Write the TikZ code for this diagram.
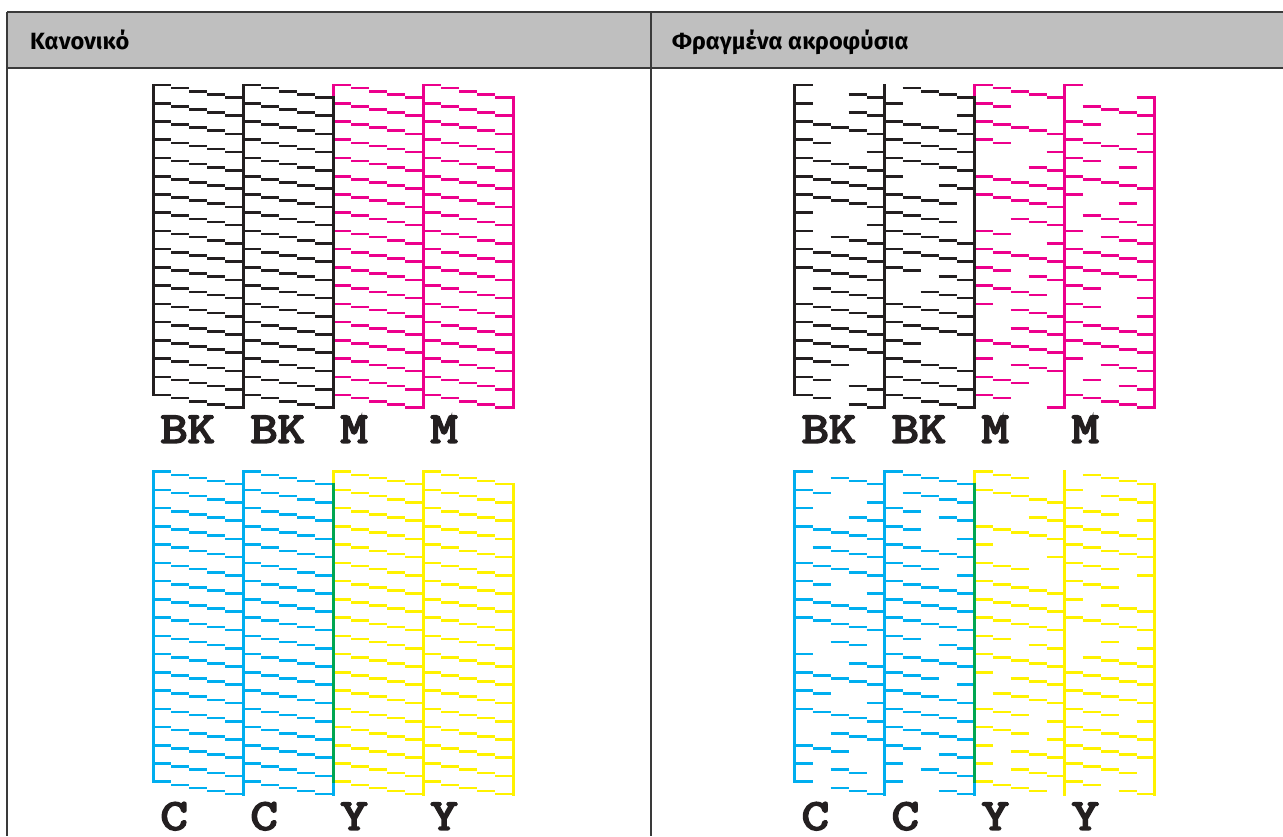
\documentclass[tikz,border=0pt]{standalone}
\usepackage{fontspec}
\setmainfont{Fira Sans}
\newfontfamily\codefont{Latin Modern Mono}[FakeBold=4]
\definecolor{pk}{HTML}{231F20}
\definecolor{pm}{HTML}{EC008C}
\definecolor{pc}{HTML}{00AEEF}
\definecolor{py}{HTML}{FFF200}
\definecolor{pg}{HTML}{00A651}
\definecolor{hdr}{HTML}{BFBFBF}
\definecolor{rulec}{HTML}{3A3A3A}
\newcommand\lab[1]{\scalebox{1.2}[1]{#1}}
\tikzset{
  seg/.style={line width=2.6pt, line cap=butt},
  vline/.style={line width=2.8pt, line cap=rect},
  ovl/.style={line width=2.8pt, line cap=butt},
  lbl/.style={inner sep=0pt, anchor=base west, text=pk, font=\codefont\fontsize{44}{48}\selectfont},
  hd/.style={inner sep=0pt, anchor=base west, font=\bfseries\fontsize{23.5}{27}\selectfont},
  rl/.style={draw=rulec, line width=1.2pt}
}
\def\rowstep{18.24}
\newcommand\nzblock[4]{%
  \draw[#3,vline] ({#1},{#2}) -- ++(0,{17*\rowstep});
  \foreach [count=\r from 0] \a/\b/\c/\d/\e in #4 {
    \pgfmathsetmacro\yy{#2+\r*\rowstep}
    \ifnum\a=1 \draw[#3,seg] ({#1},{\yy}) -- ++(18,0);\fi
    \ifnum\b=1 \draw[#3,seg] ({#1+18},{\yy+3.1}) -- ++(18,0);\fi
    \ifnum\c=1 \draw[#3,seg] ({#1+36},{\yy+6.2}) -- ++(18,0);\fi
    \ifnum\d=1 \draw[#3,seg] ({#1+54},{\yy+9.3}) -- ++(18,0);\fi
    \ifnum\e=1 \draw[#3,seg] ({#1+72},{\yy+12.4}) -- ++(18,0);\fi
  }%
}
\newcommand\nzright[3]{%
  \draw[#3,vline] ({#1+90},{#2+12.4}) -- ++(0,{17*\rowstep});%
}
\newcommand\drawpanel[9]{%
  % top half
  \nzblock{#1+180}{85}{pm}{#4}
  \nzblock{#1+270}{85}{pm}{#5}
  \nzright{#1+180}{85}{pm}
  \nzright{#1+270}{85}{pm}
  \nzblock{#1}{85}{pk}{#2}
  \nzblock{#1+90}{85}{pk}{#3}
  \nzright{#1}{85}{pk}
  \nzright{#1+90}{85}{pk}
  % bottom half
  \nzblock{#1+180}{471.7}{py}{#8}
  \nzblock{#1+270}{471.7}{py}{#9}
  \nzright{#1+180}{471.7}{py}
  \nzright{#1+270}{471.7}{py}
  \nzblock{#1}{471.7}{pc}{#6}
  \nzblock{#1+90}{471.7}{pc}{#7}
  \nzright{#1}{471.7}{pc}
  \nzright{#1+90}{471.7}{pc}
  \draw[pg,ovl] ({#1+180},{471.7+12.4-1.4}) -- ({#1+180},{471.7+17*\rowstep+1.4});
  % labels
  \node[lbl] (\pfx-bka) at ({#1+7},442.7) {\lab{BK}};
  \node[lbl] (\pfx-bkb) at ({#1+97},442.7) {\lab{BK}};
  \node[lbl] (\pfx-ma) at ({#1+187},442.7) {\lab{M}};
  \node[lbl] (\pfx-mb) at ({#1+277},442.7) {\lab{M}};
  \node[lbl] (\pfx-ca) at ({#1+7},829.7) {\lab{C}};
  \node[lbl] (\pfx-cb) at ({#1+97},829.7) {\lab{C}};
  \node[lbl] (\pfx-ya) at ({#1+187},829.7) {\lab{Y}};
  \node[lbl] (\pfx-yb) at ({#1+277},829.7) {\lab{Y}};
}
% normal pattern
\def\full{1/1/1/1/1,1/1/1/1/1,1/1/1/1/1,1/1/1/1/1,1/1/1/1/1,1/1/1/1/1,1/1/1/1/1,1/1/1/1/1,1/1/1/1/1,1/1/1/1/1,1/1/1/1/1,1/1/1/1/1,1/1/1/1/1,1/1/1/1/1,1/1/1/1/1,1/1/1/1/1,1/1/1/1/1,1/1/1/1/1}
% clogged patterns
\def\kA{1/0/0/1/1,1/0/0/1/1,1/1/1/1/1,1/1/0/0/1,1/1/1/1/1,1/1/1/1/1,1/1/1/1/1,1/0/0/0/1,1/0/1/1/1,1/1/1/1/1,1/1/1/1/1,0/1/1/1/1,1/1/1/1/1,1/1/1/1/1,1/1/1/1/1,1/1/1/0/0,1/1/0/1/1,1/1/0/1/1}
\def\kB{0/1/1/1/1,1/0/0/0/1,1/1/1/1/1,1/1/1/1/1,1/1/1/1/1,1/0/0/1/1,1/1/1/1/0,1/1/1/1/0,1/1/1/1/1,1/1/1/1/1,1/1/0/1/1,0/0/1/1/1,1/1/1/1/1,1/1/1/1/1,1/1/0/0/0,1/1/1/1/1,1/1/1/1/1,1/1/1/1/1}
\def\mA{1/1/1/1/1,1/1/0/0/0,1/1/1/1/1,1/1/0/0/1,0/0/0/1/1,1/1/1/1/1,1/1/1/1/1,0/0/1/1/1,1/1/0/0/1,1/1/1/1/1,1/1/0/1/1,1/1/1/1/0,1/0/1/1/1,0/0/1/1/1,1/1/1/1/1,1/0/1/1/1,1/1/1/0/0,1/1/0/0/1}
\def\mB{1/0/0/0/1,0/1/1/1/1,1/1/0/0/1,1/1/1/1/1,1/1/0/1/0,1/1/1/1/1,1/0/0/1/0,0/1/1/1/1,1/0/1/1/1,1/1/1/1/1,1/1/1/1/1,1/1/0/0/1,1/1/0/0/1,1/1/1/1/1,1/1/1/1/1,1/0/1/1/1,0/1/0/1/1,1/1/1/1/1}
\def\cA{1/0/1/1/1,1/1/0/0/1,1/0/0/1/1,1/1/1/1/1,0/1/1/1/1,1/1/1/1/1,1/1/0/0/1,1/1/1/1/1,1/1/1/1/1,0/0/1/1/0,1/0/0/1/1,1/1/1/1/1,1/1/0/0/1,1/1/1/1/1,0/0/1/1/1,1/1/1/0/0,1/0/1/1/0,1/0/1/1/1}
\def\cB{1/1/1/1/1,0/1/1/1/1,1/1/0/1/1,1/1/0/0/1,1/1/1/1/1,1/1/1/0/1,1/1/1/1/1,1/1/1/1/1,1/1/1/1/1,1/1/0/1/1,1/1/1/1/1,1/1/1/0/1,1/1/1/1/1,1/1/1/1/1,1/1/1/1/1,1/1/0/1/1,1/0/1/1/1,1/0/0/1/1}
\def\yA{1/1/1/0/0,1/1/1/1/1,0/0/0/1/1,1/1/1/1/1,1/0/0/0/1,1/1/1/0/0,1/1/1/1/1,1/1/1/1/1,1/1/1/1/1,1/1/0/1/1,1/1/1/1/1,1/0/1/1/1,0/1/1/1/1,1/1/1/0/1,1/1/1/0/1,1/0/1/1/1,1/0/1/1/1,1/1/1/1/0}
\def\yB{0/1/1/1/1,1/0/1/1/1,1/1/1/0/1,1/1/1/1/1,1/1/1/1/1,1/1/1/0/1,1/1/1/0/0,1/0/1/1/1,1/1/1/1/1,0/0/1/0/1,0/1/1/1/1,1/1/1/1/1,1/1/1/1/1,1/1/1/0/1,1/1/1/1/1,1/1/1/1/1,1/1/1/1/0,1/1/0/1/1}
\begin{document}
\begin{tikzpicture}[x=1pt,y=-1pt]
\useasboundingbox (0,0) rectangle (1283,836);
\fill[white] (0,0) rectangle (1283,836);
% table
\fill[hdr] (7,12) rectangle (1283,68);
\draw[rl] (7,12) -- (1283,12);
\draw[rl] (7,68) -- (1283,68);
\draw[rl] (7,12) -- (7,836);
\draw[rl] (651,12) -- (651,836);
\node[hd] (hnorm) at (30,49.5) {Κανονικό};
\node[hd] (hclog) at (672,49.5) {Φραγμένα ακροφύσια};
% panels
\def\pfx{L}
\drawpanel{153.3}{\full}{\full}{\full}{\full}{\full}{\full}{\full}{\full}
\def\pfx{R}
\drawpanel{794.5}{\kA}{\kB}{\mA}{\mB}{\cA}{\cB}{\yA}{\yB}
\end{tikzpicture}
\end{document}
